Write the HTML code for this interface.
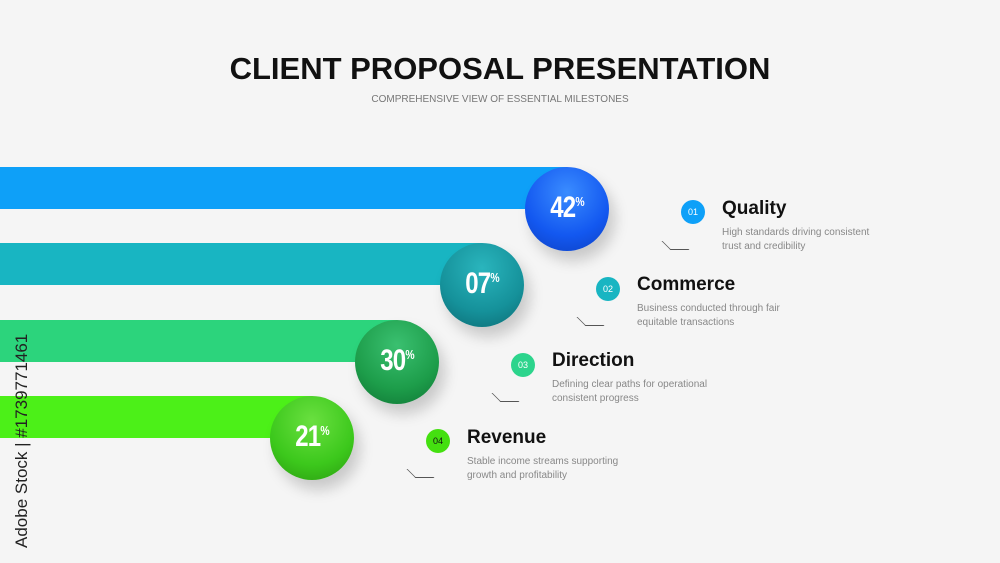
<!DOCTYPE html><html><head><style>
body{margin:0;width:1000px;height:563px;background:#f5f5f5;font-family:"Liberation Sans",sans-serif;position:relative;overflow:hidden}
.t{position:absolute;left:0;width:1000px;text-align:center}
.bar{position:absolute;left:0;height:42px}
.sp{position:absolute;width:84px;height:84px;border-radius:50%;box-shadow:6px 10px 14px rgba(0,0,0,.18)}
.sp span{position:absolute;left:0;right:0;top:24px;text-align:center;color:#fff;font-weight:bold;font-size:30px;letter-spacing:-1px;transform:scaleX(.8)}
.sp sup{font-size:13px}
.n{position:absolute;width:24px;height:24px;border-radius:50%;color:#fff;font-size:9px;text-align:center;line-height:24px}
.h{position:absolute;font-size:19px;font-weight:bold;color:#111}
.d{position:absolute;font-size:10px;color:#888;line-height:14px}
.q{position:absolute;width:18px;height:8px;border-left:1px solid #555;border-bottom:1px solid #555;transform:skewX(45deg)}
</style></head><body>
<div class="t" style="top:51px;font-size:31px;font-weight:bold;color:#111">CLIENT PROPOSAL PRESENTATION</div>
<div class="t" style="top:94px;font-size:10px;color:#777">COMPREHENSIVE VIEW OF ESSENTIAL MILESTONES</div>
<div class="bar" style="top:167px;width:567px;background:#0ea0f8"></div>
<div class="bar" style="top:243px;width:482px;background:#18b5c2"></div>
<div class="bar" style="top:320px;width:397px;background:#2cd47c"></div>
<div class="bar" style="top:396px;width:312px;background:#4cf018"></div>
<div class="sp" style="left:525px;top:167px;background:radial-gradient(circle at 50% 30%,#3a8cff,#1358f0 60%,#0d3fc0)"><span>42<sup>%</sup></span></div>
<div class="sp" style="left:440px;top:243px;background:radial-gradient(circle at 50% 30%,#2ab5bd,#15919a 60%,#0c6a72)"><span>07<sup>%</sup></span></div>
<div class="sp" style="left:355px;top:320px;background:radial-gradient(circle at 50% 30%,#3ac070,#1d9d4a 60%,#0f7434)"><span>30<sup>%</sup></span></div>
<div class="sp" style="left:270px;top:396px;background:radial-gradient(circle at 50% 30%,#6ae040,#3cc81c 60%,#2a9a10)"><span>21<sup>%</sup></span></div>
<div class="n" style="left:681px;top:200px;background:#0ea0f8">01</div>
<div class="h" style="left:722px;top:198px">Quality</div>
<div class="d" style="left:722px;top:226px">High standards driving consistent<br>trust and credibility</div>
<div class="q" style="left:666px;top:241px"></div>
<div class="n" style="left:596px;top:277px;background:#18b5c2">02</div>
<div class="h" style="left:637px;top:274px">Commerce</div>
<div class="d" style="left:637px;top:302px">Business conducted through fair<br>equitable transactions</div>
<div class="q" style="left:581px;top:317px"></div>
<div class="n" style="left:511px;top:353px;background:#2cd48c">03</div>
<div class="h" style="left:552px;top:350px">Direction</div>
<div class="d" style="left:552px;top:378px">Defining clear paths for operational<br>consistent progress</div>
<div class="q" style="left:496px;top:393px"></div>
<div class="n" style="left:426px;top:429px;background:#44e010;color:#111">04</div>
<div class="h" style="left:467px;top:427px">Revenue</div>
<div class="d" style="left:467px;top:455px">Stable income streams supporting<br>growth and profitability</div>
<div class="q" style="left:411px;top:469px"></div>
<div style="position:absolute;left:12px;top:548px;transform:rotate(-90deg);transform-origin:0 0;font-size:17px;color:#222;white-space:nowrap">Adobe Stock | #1739771461</div>
</body></html>
